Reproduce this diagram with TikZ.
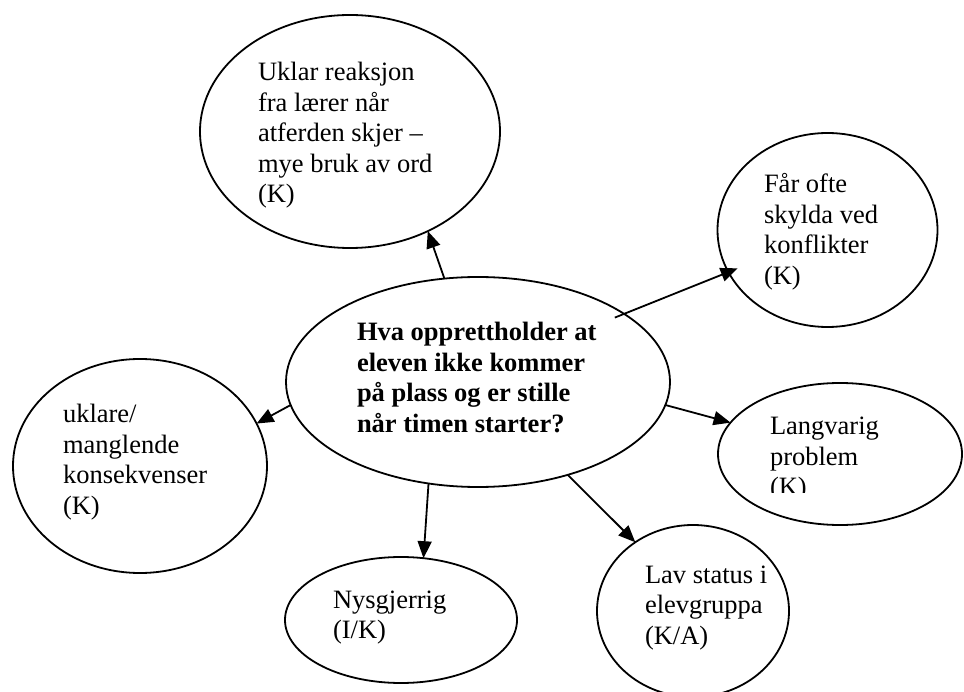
\documentclass[tikz,border=0pt]{standalone}
\usepackage{fontspec}
\setmainfont{Liberation Serif}
\usetikzlibrary{shapes.geometric,arrows.meta}
\newcommand{\mylines}[1]{\begin{tabular}[t]{@{}l@{}}#1\end{tabular}}
\begin{document}
\begin{tikzpicture}[x=1pt,y=-1pt,
  bubble/.style={ellipse,draw,line width=1.8pt,inner sep=0pt,outer sep=0pt},
  txt/.style={anchor=base west,inner sep=0pt,outer sep=0pt,font=\fontsize{26.5}{30.5}\selectfont},
  conn/.style={line width=1.8pt,-{Triangle[length=17pt,width=14pt]}}]
\useasboundingbox (0,0) rectangle (964,692);
% ellipses
\node[bubble,minimum width=384pt,minimum height=210pt] (c) at (478,382) {};
\node[bubble,minimum width=300pt,minimum height=233pt] (t) at (350,131.5) {};
\node[bubble,minimum width=220pt,minimum height=194pt] (f) at (827.5,230) {};
\node[bubble,minimum width=254pt,minimum height=214pt] (u) at (140,466) {};
\node[bubble,minimum width=232pt,minimum height=126pt] (n) at (401,620) {};
\node[bubble,minimum width=192pt,minimum height=172pt] (s) at (693,611) {};
\node[bubble,minimum width=244pt,minimum height=142pt] (l) at (840,454) {};
% texts
\node[txt,font=\fontsize{26.5}{30.5}\selectfont\bfseries] (ct) at (357,340.7)
  {\mylines{Hva opprettholder at\\eleven ikke kommer\\på plass og er stille\\når timen starter?}};
\node[txt] (tt) at (258,81) {\mylines{Uklar reaksjon\\fra lærer når\\atferden skjer –\\mye bruk av ord\\(K)}};
\node[txt] (ft) at (764,193) {\mylines{Får ofte\\skylda ved\\konflikter\\(K)}};
\node[txt] (ut) at (63,423) {\mylines{uklare/\\manglende\\konsekvenser\\(K)}};
\node[txt] (nt) at (333,608) {\mylines{Nysgjerrig\\(I/K)}};
\node[txt] (st) at (645,583) {\mylines{Lav status i\\elevgruppa\\(K/A)}};
\begin{scope}
\clip (700,380) rectangle (964,492);
\node[txt] (lt) at (770,435) {\mylines{Langvarig\\problem\\(K)}};
\end{scope}
% connectors
\draw[conn] (c.108.4) -- (t.-52.3);
\draw[conn,shorten <=-10pt,shorten >=-10pt] (c.25.5) -- (f.203.2);
\draw[conn] (c.187.75) -- (u.20.4);
\draw[conn] (c.244.5) -- (n.70.7);
\draw[conn] (c.-46.5) -- (s.130);
\draw[conn] (c.-7.7) -- (l.164.6);
\end{tikzpicture}
\end{document}
